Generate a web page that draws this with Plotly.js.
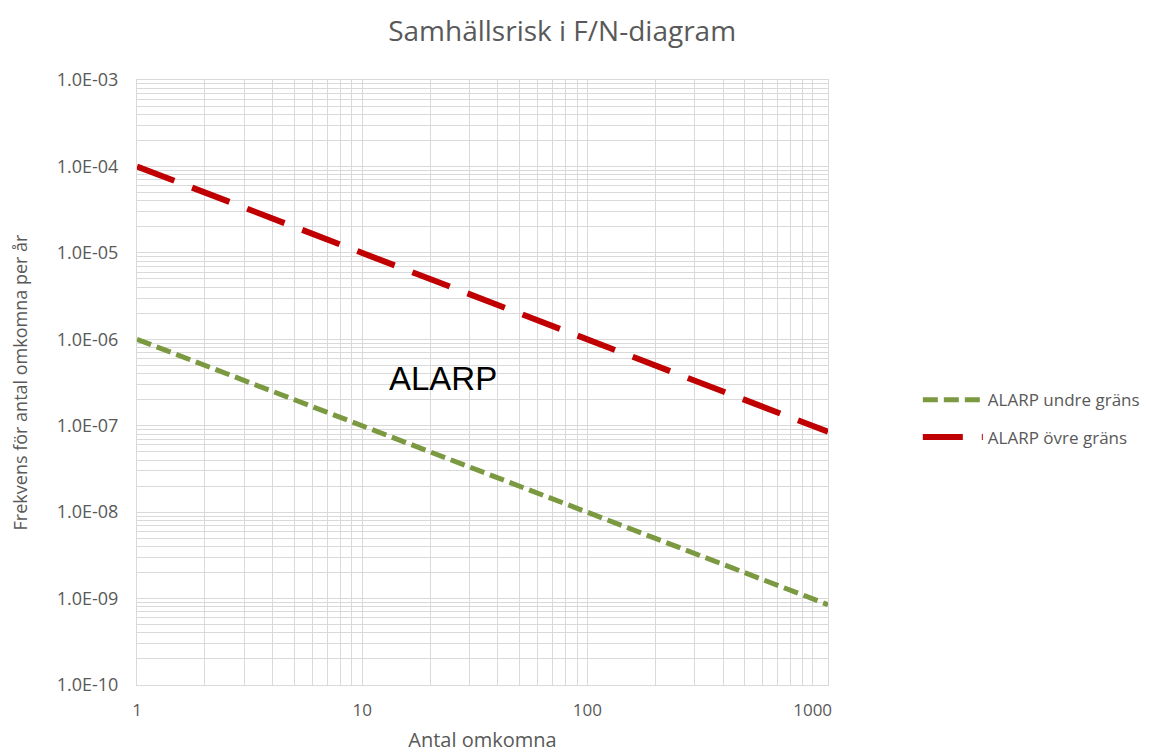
<!DOCTYPE html>
<html>
<head>
<meta charset="utf-8">
<script src="https://cdn.plot.ly/plotly-3.0.1.min.js"></script>
<style>html,body{margin:0;padding:0;background:#fff;}#chart{width:1159px;height:753px;}</style>
</head>
<body>
<div id="chart"></div>
<script>
// Data
const antalOmkomna = [1, 10, 100, 1000, 1170];
const undreGrans = [1e-6, 1e-7, 1e-8, 1e-9, 8.5e-10];
const ovreGrans = [1e-4, 1e-5, 1e-6, 1e-7, 8.5e-8];
const yTickVals = [1e-10, 1e-9, 1e-8, 1e-7, 1e-6, 1e-5, 1e-4, 1e-3];
const yTickText = ["1.0E-10", "1.0E-09", "1.0E-08", "1.0E-07", "1.0E-06", "1.0E-05", "1.0E-04", "1.0E-03"];
const xTickVals = [1, 10, 100, 1000];
const xTickText = ["1", "10", "100", "1000"];

// minor grid positions (2..9 within each decade)
const xMinor = [];
for (let d = 0; d <= 3; d++) for (let m = 2; m <= 9; m++) xMinor.push(m * Math.pow(10, d));
const yMinor = [];
for (let d = -10; d <= -4; d++) for (let m = 2; m <= 9; m++) yMinor.push(m * Math.pow(10, d));

const font = "'Open Sans', 'Noto Sans', sans-serif";
const grey = "#595959";
const grid = "#d9d9d9";

const traces = [
  {
    x: antalOmkomna, y: undreGrans, type: "scatter", mode: "lines",
    name: "ALARP undre gräns", legendgroup: "a",
    line: {color: "#7b9940", width: 5, dash: "15px,6px"}
  },
  {
    x: antalOmkomna, y: ovreGrans, type: "scatter", mode: "lines",
    name: "ALARP övre gräns", legendgroup: "b",
    line: {color: "#c00000", width: 6, dash: "40px,19px"}
  }
];

const layout = {
  width: 1159, height: 753,
  paper_bgcolor: "#fff", plot_bgcolor: "#fff",
  margin: {l: 137, r: 331, t: 80, b: 68, autoexpand: false},
  title: {text: "Samhällsrisk i F/N-diagram", font: {family: font, size: 28, color: grey}, x: 0.485, xanchor: "center", y: 0.958, yanchor: "middle"},
  xaxis: {
    type: "log", range: [0, Math.log10(1170)],
    tickmode: "array", tickvals: xTickVals, ticktext: xTickText,
    tickfont: {family: font, size: 17, color: grey}, ticklabelstandoff: 10,
    showgrid: true, gridcolor: grid, gridwidth: 1,
    minor: {tickmode: "array", tickvals: xMinor, showgrid: true, gridcolor: grid, gridwidth: 1},
    showline: true, linecolor: grid, mirror: true, zeroline: false, ticks: "", ticklen: 0,
    title: {text: "Antal omkomna", font: {family: font, size: 20, color: grey}, standoff: 19}
  },
  yaxis: {
    type: "log", range: [-10, -3],
    tickmode: "array", tickvals: yTickVals, ticktext: yTickText,
    tickfont: {family: font, size: 18, color: grey}, ticklabelstandoff: 14,
    showgrid: true, gridcolor: grid, gridwidth: 1,
    minor: {tickmode: "array", tickvals: yMinor, showgrid: true, gridcolor: grid, gridwidth: 1},
    showline: true, linecolor: grid, mirror: true, zeroline: false, ticks: "", ticklen: 0,
    title: {text: "Frekvens för antal omkomna per år", font: {family: font, size: 18, color: grey}, standoff: 24}
  },
  showlegend: true,
  legend: {
    x: 1.13, xanchor: "left", y: 0.44, yanchor: "middle",
    font: {family: font, size: 17, color: grey},
    traceorder: "grouped", tracegroupgap: 12, itemwidth: 60,
    bgcolor: "rgba(0,0,0,0)"
  },
  annotations: [
    {x: Math.log10(22.8), y: Math.log10(3.55e-7), xref: "x", yref: "y", text: "ALARP", showarrow: false,
     font: {family: "'Liberation Sans', Arial, sans-serif", size: 33, color: "#000"}, xanchor: "center", yanchor: "middle"}
  ]
};

Plotly.newPlot("chart", traces, layout, {displayModeBar: false, staticPlot: true});
</script>
</body>
</html>
